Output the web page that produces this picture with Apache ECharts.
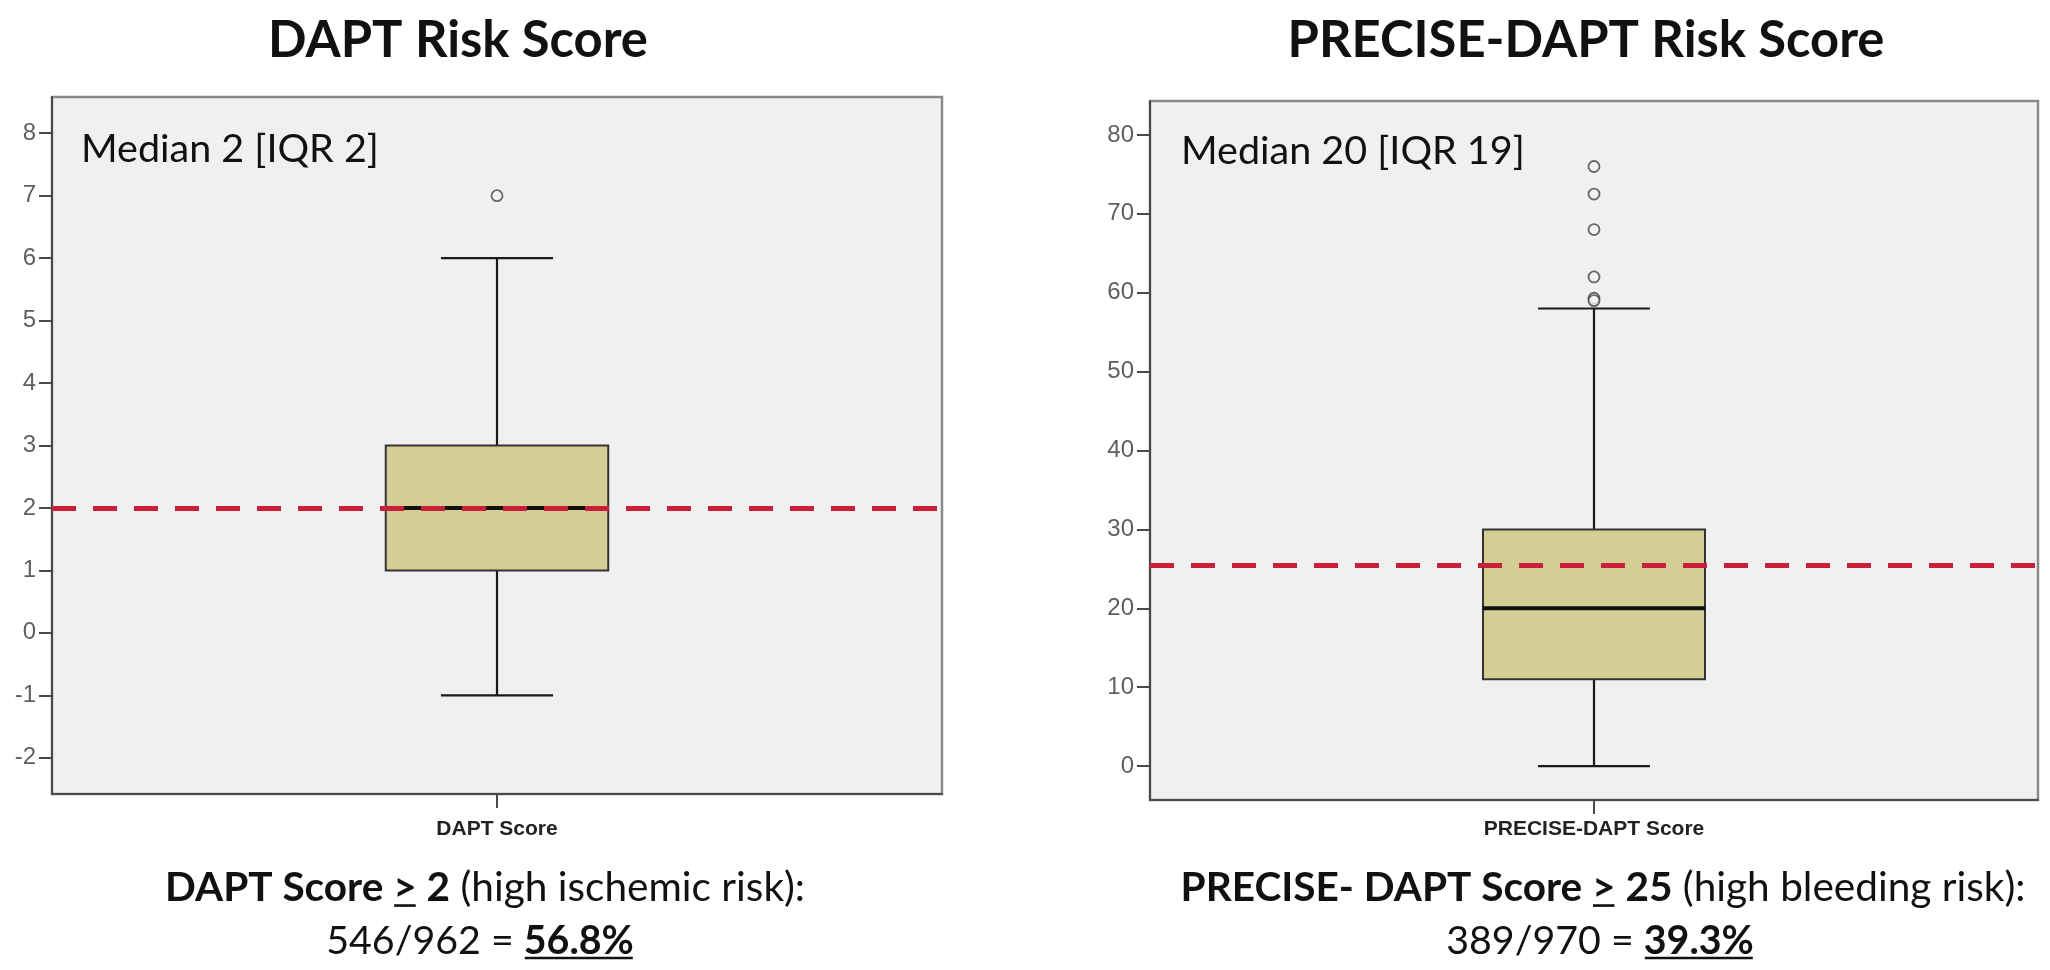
<!DOCTYPE html>
<html>
<head>
<meta charset="utf-8">
<script src="https://cdn.jsdelivr.net/npm/echarts@6/dist/echarts.min.js"></script>
<style>
html,body{margin:0;padding:0;background:#fff;}
#c{width:2050px;height:970px;}
</style>
</head>
<body>
<div id="c"></div>
<script>
// ---------------- data ----------------
const categoriesLeft = ['DAPT Score'];
const categoriesRight = ['PRECISE-DAPT Score'];
const leftTicks = [-2, -1, 0, 1, 2, 3, 4, 5, 6, 7, 8];
const rightTicks = [0, 10, 20, 30, 40, 50, 60, 70, 80];
const leftRange = [-2.58, 8.58];
const rightRange = [-4.3, 84.3];
// [lower whisker, Q1, median, Q3, upper whisker]
const daptBox = [-1, 1, 2, 3, 6];
const preciseBox = [0, 11, 20, 30, 58];
const daptOutliers = [7];
const preciseOutliers = [76, 72.5, 68, 62, 59.3, 59];
const thresholds = [2, 25.5];
const titles = ['DAPT Risk Score', 'PRECISE-DAPT Risk Score'];
const medianTexts = ['Median 2 [IQR 2]', 'Median 20 [IQR 19]'];
const counts = [[546, 962, '56.8%'], [389, 970, '39.3%']];
const cutoffs = ['2', '25'];

// ---------------- text helpers ----------------
const FONT = 'Lato, "Open Sans", sans-serif';
const mctx = document.createElement('canvas').getContext('2d');
function fontStr(size, bold) { return (bold ? 'bold ' : '') + size.toFixed(2) + 'px ' + FONT; }
function tw(t, size, bold) { mctx.font = fontStr(size, bold); return mctx.measureText(t).width; }
function segW(segs, size) { return segs.reduce((s, g) => s + tw(g.t, size, g.b), 0); }
function layoutLine(segs, size, cx, cy, out) {
  let x = cx - segW(segs, size) / 2;
  segs.forEach(g => {
    const w = tw(g.t, size, g.b);
    out.push({type: 'text', x: x, y: cy, z: 10,
      style: {text: g.t, font: fontStr(size, g.b), fill: '#111', align: 'left', verticalAlign: 'middle'}});
    if (g.u) {
      out.push({type: 'rect', z: 10, shape: {x: x + 1, y: cy + 0.40 * size, width: w - 2, height: Math.max(2, size * 0.065)},
        style: {fill: '#111'}});
    }
    x += w;
  });
}

const line1 = [
  [{t: 'DAPT Score ', b: true}, {t: '>', b: true, u: true}, {t: ' ' + cutoffs[0], b: true}, {t: ' (high ischemic risk):', b: false}],
  [{t: 'PRECISE- DAPT Score ', b: true}, {t: '>', b: true, u: true}, {t: ' ' + cutoffs[1], b: true}, {t: ' (high bleeding risk):', b: false}]
];
const line2 = counts.map(c => [{t: c[0] + '/' + c[1] + ' = ', b: false}, {t: c[2], b: true, u: true}]);

const S = 40 * 640 / segW(line1[0], 40);
const T = 50 * 380 / tw(titles[0], 50, true);
const M = 38 * 298 / tw(medianTexts[0], 38, false);

const graphics = [];
graphics.push({type: 'text', x: 458, y: 41, style: {text: titles[0], font: fontStr(T, true), fill: '#111', align: 'center', verticalAlign: 'middle'}});
graphics.push({type: 'text', x: 1586, y: 41, style: {text: titles[1], font: fontStr(T, true), fill: '#111', align: 'center', verticalAlign: 'middle'}});
graphics.push({type: 'text', x: 81, y: 149, z: 10, style: {text: medianTexts[0], font: fontStr(M, false), fill: '#111', align: 'left', verticalAlign: 'middle'}});
graphics.push({type: 'text', x: 1181, y: 151, z: 10, style: {text: medianTexts[1], font: fontStr(M, false), fill: '#111', align: 'left', verticalAlign: 'middle'}});
layoutLine(line1[0], S, 485, 888, graphics);
layoutLine(line2[0], S * 0.97, 480, 941, graphics);
layoutLine(line1[1], S, 1603, 888, graphics);
layoutLine(line2[1], S * 0.97, 1600, 941, graphics);

// ---------------- chart ----------------
const AX = '#4a4a4a';
function yAxis(idx, range, ticks) {
  return {
    type: 'value', gridIndex: idx, min: range[0], max: range[1],
    axisLine: {show: true, onZero: false, lineStyle: {color: AX, width: 2}},
    axisTick: {show: true, length: 13, lineStyle: {color: AX, width: 2}, customValues: ticks},
    axisLabel: {customValues: ticks, color: '#5f5f5f', fontSize: 24, fontFamily: '"Liberation Sans", Arial, sans-serif', margin: 16},
    splitLine: {show: false}
  };
}
function xAxis(idx, cats, margin) {
  return {
    type: 'category', gridIndex: idx, data: cats, boundaryGap: true,
    axisLine: {show: true, onZero: false, lineStyle: {color: AX, width: 2}},
    axisTick: {show: true, alignWithLabel: true, length: 14, lineStyle: {color: AX, width: 2}},
    axisLabel: {color: '#222', fontSize: 21, fontWeight: 'bold', fontFamily: '"Liberation Sans", Arial, sans-serif', margin: margin},
    splitLine: {show: false}
  };
}
function boxRender(params, api) {
  const lo = api.coord([api.value(0), api.value(1)]);
  const q1 = api.coord([api.value(0), api.value(2)]);
  const md = api.coord([api.value(0), api.value(3)]);
  const q3 = api.coord([api.value(0), api.value(4)]);
  const hi = api.coord([api.value(0), api.value(5)]);
  const band = api.size([1, 0])[0];
  const cx = lo[0];
  const hw = band * 0.125;
  const cw = band * 0.063;
  const ls = {stroke: '#1a1a1a', lineWidth: 2.2};
  return {type: 'group', children: [
    {type: 'line', shape: {x1: cx, y1: hi[1], x2: cx, y2: q3[1]}, style: ls},
    {type: 'line', shape: {x1: cx, y1: q1[1], x2: cx, y2: lo[1]}, style: ls},
    {type: 'line', shape: {x1: cx - cw, y1: hi[1], x2: cx + cw, y2: hi[1]}, style: ls},
    {type: 'line', shape: {x1: cx - cw, y1: lo[1], x2: cx + cw, y2: lo[1]}, style: ls},
    {type: 'rect', shape: {x: cx - hw, y: q3[1], width: 2 * hw, height: q1[1] - q3[1]}, style: {fill: '#d4ce96', stroke: '#333', lineWidth: 2}},
    {type: 'line', shape: {x1: cx - hw, y1: md[1], x2: cx + hw, y2: md[1]}, style: {stroke: '#111', lineWidth: 4}}
  ]};
}
function boxSeries(idx, box) {
  return {type: 'custom', xAxisIndex: idx, yAxisIndex: idx, z: 2,
    encode: {x: 0, y: [1, 2, 3, 4, 5]},
    data: [[0].concat(box)], renderItem: boxRender, silent: true};
}
function outSeries(idx, outs, thr) {
  return {type: 'scatter', xAxisIndex: idx, yAxisIndex: idx, z: 3,
    symbol: 'circle', symbolSize: 11,
    itemStyle: {color: '#f4f4f4', borderColor: '#444', borderWidth: 1.8},
    data: outs.map(v => [0, v]),
    markLine: {silent: true, symbol: ['none', 'none'], label: {show: false},
      lineStyle: {color: '#c8203a', width: 5, type: [24, 17], opacity: 1},
      emphasis: {disabled: true},
      data: [{yAxis: thr}]}
  };
}

const chart = echarts.init(document.getElementById('c'), null, {renderer: 'canvas'});
chart.setOption({
  animation: false,
  backgroundColor: '#ffffff',
  grid: [
    {left: 52, top: 97, width: 890, height: 697, show: true, backgroundColor: '#f0f0f0', borderColor: '#8a8a8a', borderWidth: 2.5, containLabel: false},
    {left: 1150, top: 101, width: 888, height: 699, show: true, backgroundColor: '#f0f0f0', borderColor: '#8a8a8a', borderWidth: 2.5, containLabel: false}
  ],
  xAxis: [xAxis(0, categoriesLeft, 25), xAxis(1, categoriesRight, 19)],
  yAxis: [yAxis(0, leftRange, leftTicks), yAxis(1, rightRange, rightTicks)],
  series: [
    boxSeries(0, daptBox), outSeries(0, daptOutliers, thresholds[0]),
    boxSeries(1, preciseBox), outSeries(1, preciseOutliers, thresholds[1])
  ],
  graphic: graphics
});
</script>
</body>
</html>
